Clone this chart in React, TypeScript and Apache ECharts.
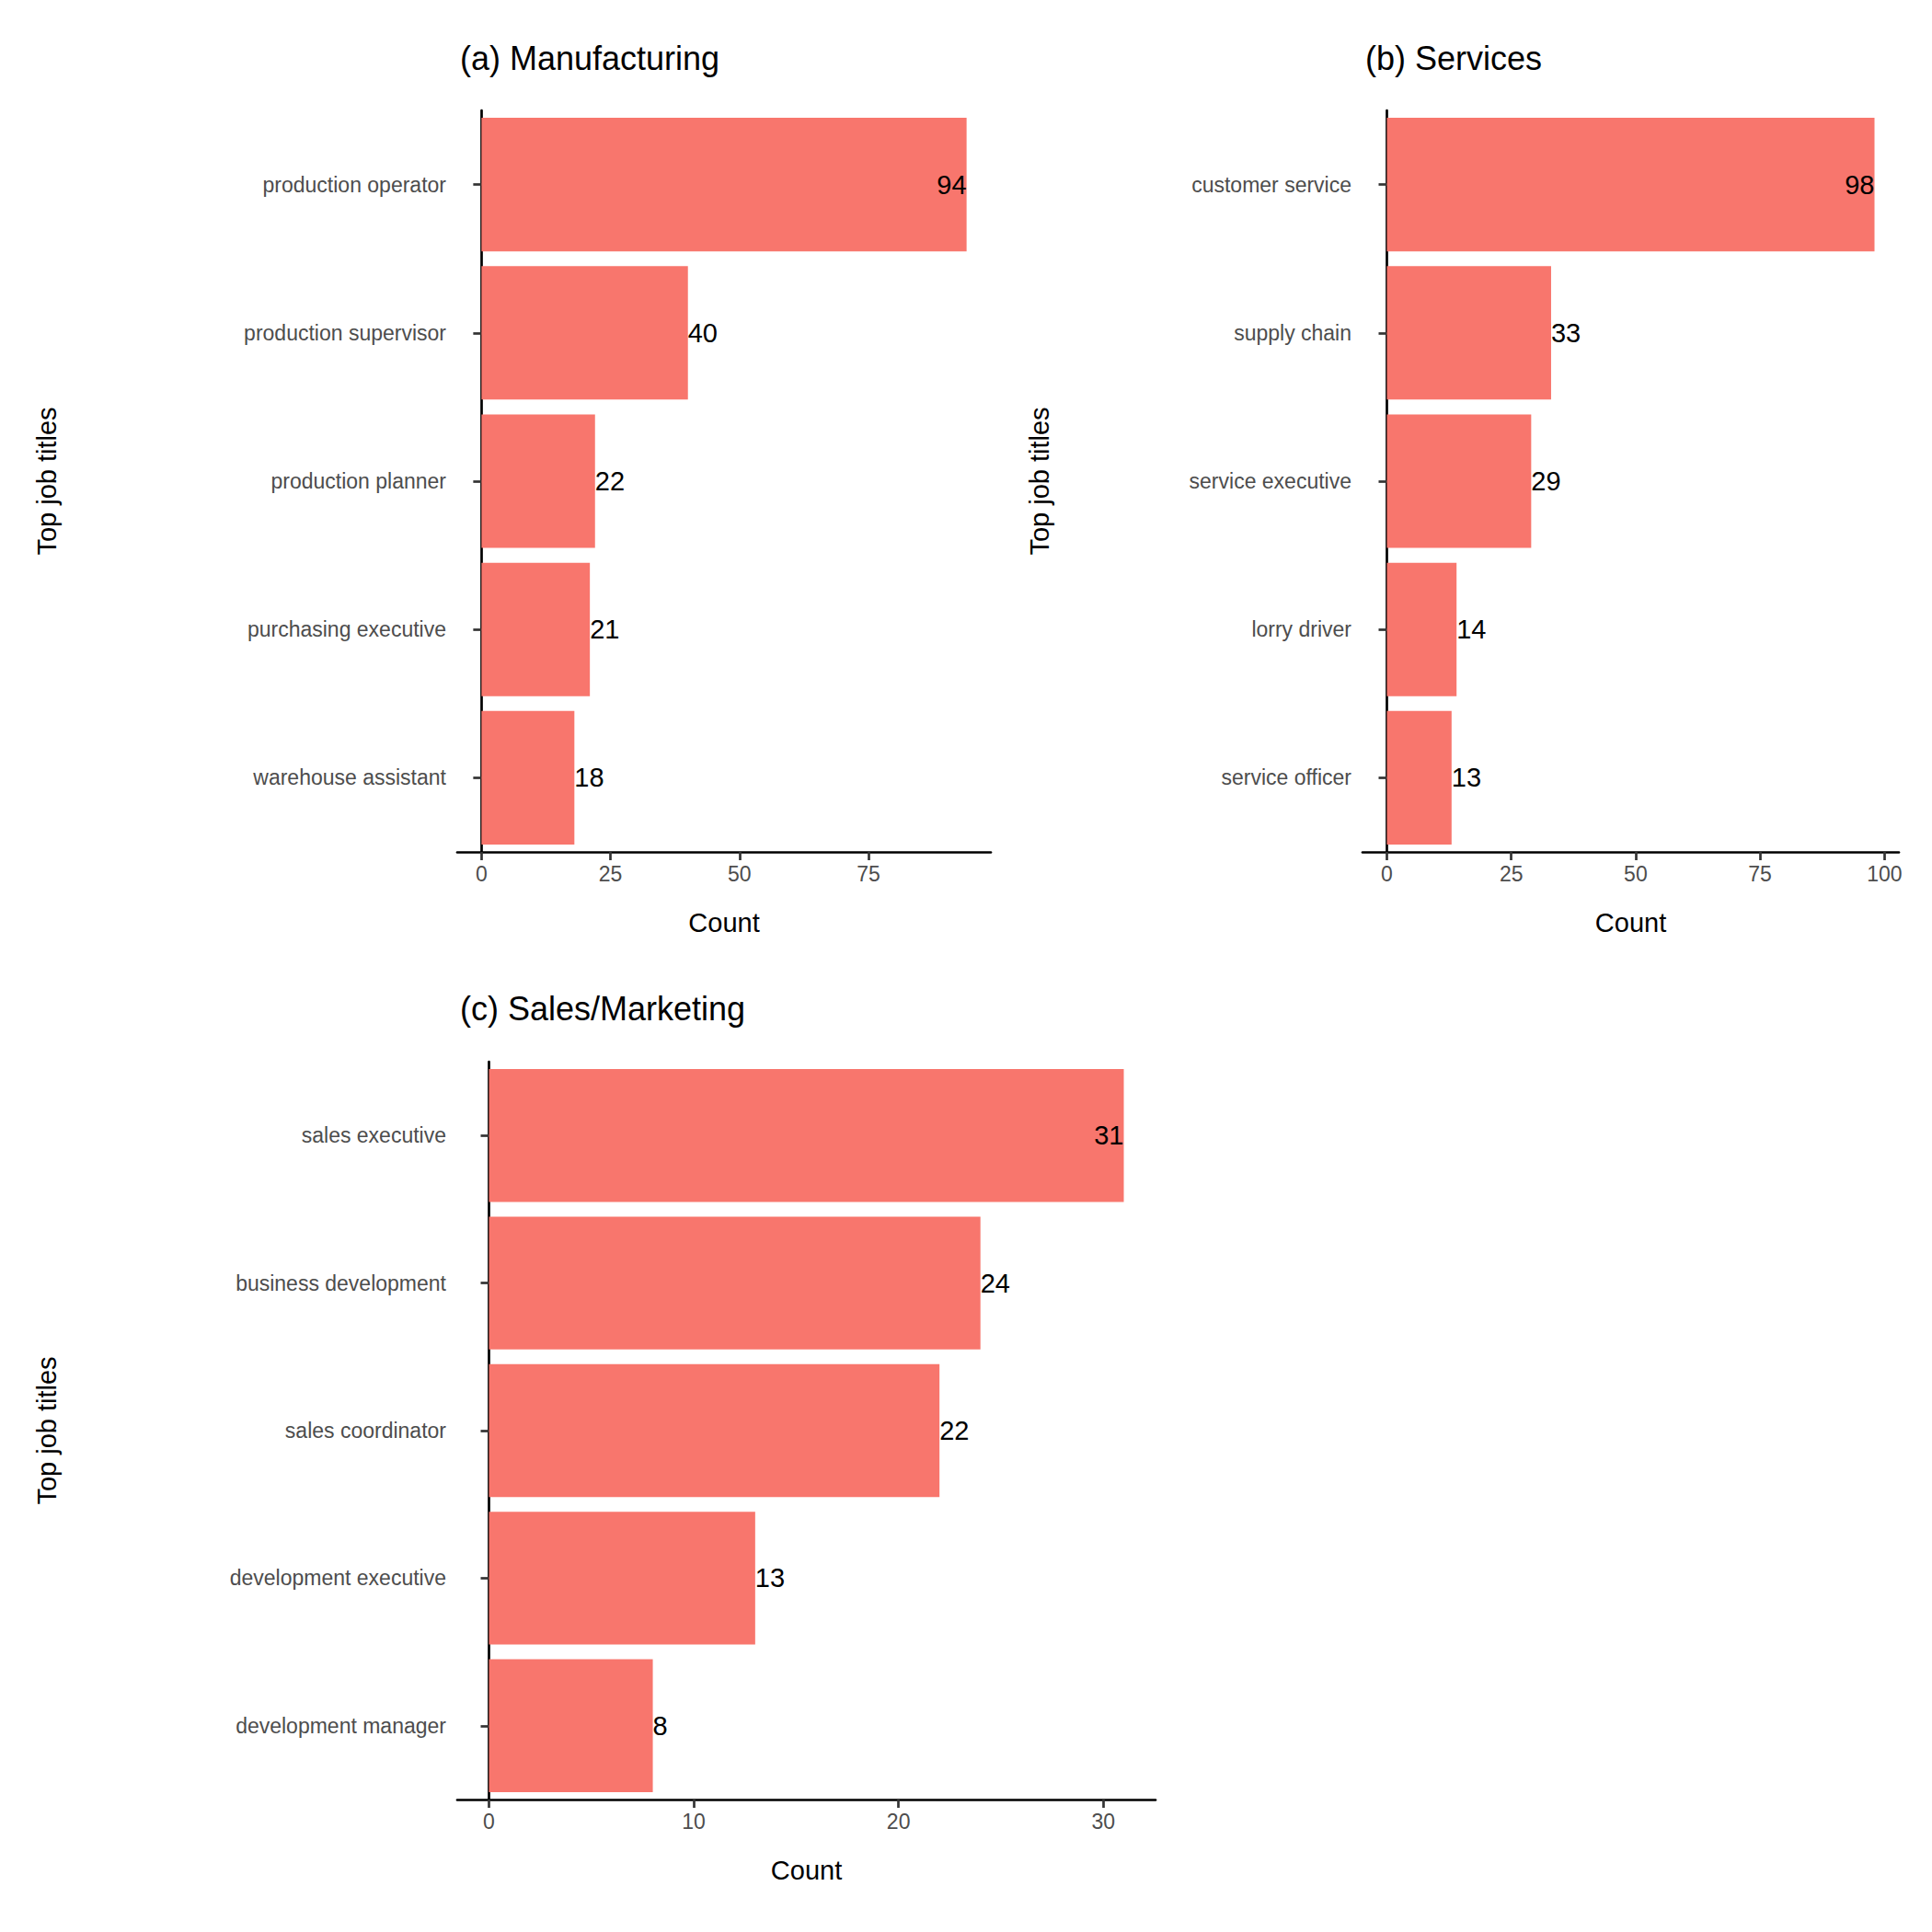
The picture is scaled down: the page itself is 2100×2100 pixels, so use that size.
import { useEffect, useRef } from "react";
import * as echarts from "echarts";

const mfgTitles = ["production operator", "production supervisor", "production planner", "purchasing executive", "warehouse assistant"];
const mfgCounts = [94, 40, 22, 21, 18];
const svcTitles = ["customer service", "supply chain", "service executive", "lorry driver", "service officer"];
const svcCounts = [98, 33, 29, 14, 13];
const salesTitles = ["sales executive", "business development", "sales coordinator", "development executive", "development manager"];
const salesCounts = [31, 24, 22, 13, 8];
const ticksA = [0, 25, 50, 75];
const ticksB = [0, 25, 50, 75, 100];
const ticksC = [0, 10, 20, 30];

const FONT = "Liberation Sans, Arial, sans-serif";
const FILL = "#F8766D";

export default function App() {
  const ref = useRef<HTMLDivElement>(null);

  useEffect(() => {
    if (!ref.current) return;
    const chart = echarts.init(ref.current, null, { renderer: "svg" });

    const panels = [
      { cats: mfgTitles, vals: mfgCounts, ticks: ticksA, min: -4.7, max: 98.7, left: 497, top: 120, width: 580, height: 806, nameGap: 432 },
      { cats: svcTitles, vals: svcCounts, ticks: ticksB, min: -4.9, max: 102.9, left: 1481, top: 120, width: 583, height: 806, nameGap: 337 },
      { cats: salesTitles, vals: salesCounts, ticks: ticksC, min: -1.55, max: 32.55, left: 497, top: 1154, width: 759, height: 802, nameGap: 432 },
    ];

    const axisLine = { show: true, lineStyle: { color: "#000", width: 2.7 } };
    const axisTick = { show: true, length: 9, lineStyle: { color: "#333", width: 2.7 } };

    chart.setOption({
      animation: false,
      textStyle: { fontFamily: FONT },
      title: [
        { text: "(a) Manufacturing", left: 495, top: 40 },
        { text: "(b) Services", left: 1479, top: 40 },
        { text: "(c) Sales/Marketing", left: 495, top: 1073 },
      ].map((t) => ({ ...t, textStyle: { fontSize: 36, fontWeight: "normal", color: "#000", fontFamily: FONT } })),
      grid: panels.map((p) => ({ left: p.left, top: p.top, width: p.width, height: p.height })),
      xAxis: panels.map((p, i) => ({
        type: "value",
        gridIndex: i,
        min: p.min,
        max: p.max,
        splitLine: { show: false },
        axisLine,
        axisTick: { ...axisTick, customValues: p.ticks },
        axisLabel: { customValues: p.ticks, color: "#4d4d4d", fontSize: 23, margin: 12, fontFamily: FONT },
        name: "Count",
        nameLocation: "middle",
        nameGap: 62,
        nameTextStyle: { fontSize: 29, color: "#000", fontFamily: FONT },
      })),
      yAxis: panels.map((p, i) => ({
        type: "category",
        gridIndex: i,
        inverse: true,
        data: p.cats,
        boundaryGap: true,
        axisLine,
        axisTick: { ...axisTick, alignWithLabel: true },
        axisLabel: { color: "#4d4d4d", fontSize: 23, margin: 12, fontFamily: FONT },
        name: "Top job titles",
        nameLocation: "middle",
        nameGap: p.nameGap,
        nameRotate: 90,
        nameTextStyle: { fontSize: 29, color: "#000", fontFamily: FONT },
      })),
      series: panels.map((p, i) => ({
        type: "bar",
        xAxisIndex: i,
        yAxisIndex: i,
        barCategoryGap: "10%",
        itemStyle: { color: FILL },
        data: p.vals.map((v, j) => ({
          value: v,
          label: {
            show: true,
            position: j === 0 ? "insideRight" : "right",
            distance: 0,
            color: "#000",
            fontSize: 29,
            fontFamily: FONT,
          },
        })),
      })),
    });

    return () => chart.dispose();
  }, []);

  return (
    <div
      ref={ref}
      style={{ position: "absolute", left: 0, top: 0, width: 2100, height: 2100, background: "#fff" }}
    />
  );
}
